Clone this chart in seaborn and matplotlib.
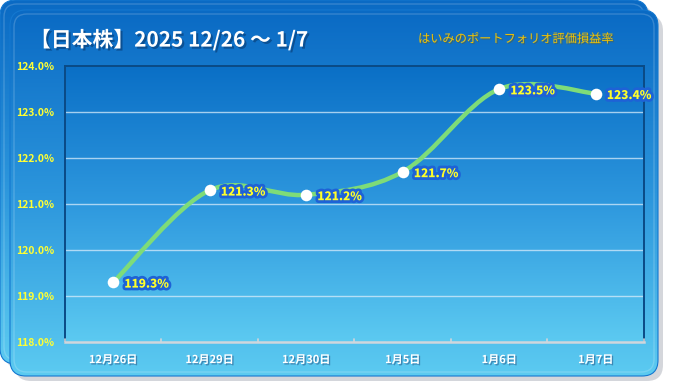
import matplotlib
matplotlib.use("Agg")
import matplotlib.pyplot as plt
import matplotlib.patheffects as pe
from matplotlib.patches import FancyBboxPatch, PathPatch
from matplotlib.path import Path
from matplotlib.colors import LinearSegmentedColormap
import seaborn as sns
import numpy as np
import pandas as pd

# data
dates = ["12月26日", "12月29日", "12月30日", "1月5日", "1月6日", "1月7日"]
ratio = [119.3, 121.3, 121.2, 121.7, 123.5, 123.4]
y_ticks = [118, 119, 120, 121, 122, 123, 124]

sns.set_theme(style="white")
plt.rcParams["font.family"] = ["Noto Sans CJK JP", "DejaVu Sans"]

W, H = 674, 392
fig = plt.figure(figsize=(W / 100, H / 100), dpi=100)
fig.patch.set_facecolor("white")

# background cards drawn in pixel coordinates
bg = fig.add_axes([0, 0, 1, 1])
bg.set_xlim(0, W)
bg.set_ylim(H, 0)
bg.axis("off")

card_cmap = LinearSegmentedColormap.from_list("card", ["#0a6ac4", "#2b95dc", "#5ccbf1"])
grad = np.linspace(0, 1, 256).reshape(-1, 1)


def card(x0, y0, x1, y1, cmap, z):
    sh = FancyBboxPatch((x0 + 5, y0 + 5), x1 - x0, y1 - y0,
                        boxstyle="round,pad=0,rounding_size=16",
                        fc="#b8bcc4", ec="none", alpha=0.6, zorder=z - 0.5)
    bg.add_patch(sh)
    box = FancyBboxPatch((x0, y0), x1 - x0, y1 - y0,
                         boxstyle="round,pad=0,rounding_size=16",
                         fc="none", ec="#1478d0", lw=0.8, zorder=z + 0.1)
    bg.add_patch(box)
    im = bg.imshow(grad, extent=[x0, x1, y1, y0], cmap=cmap, aspect="auto", zorder=z)
    im.set_clip_path(box)
    # soft inner bevel
    inner = FancyBboxPatch((x0 + 4, y0 + 4), x1 - x0 - 8, y1 - y0 - 8,
                           boxstyle="round,pad=0,rounding_size=13",
                           fc="none", ec="white", lw=1.0, alpha=0.18, zorder=z + 0.2)
    bg.add_patch(inner)


card(0, 0, 648, 364, card_cmap, 1)
card(10, 10, 658, 376, card_cmap, 2)

# plot area
ax = fig.add_axes([65 / W, 1 - 342 / H, (644 - 65) / W, (342 - 66) / H])
ax.set_facecolor("none")
plot_cmap = LinearSegmentedColormap.from_list("plot", ["#0a6fc6", "#2e98de", "#5ccaf1"])
ax.imshow(grad, extent=[-0.5, 5.5, 118, 124], cmap=plot_cmap, aspect="auto", zorder=0)

df = pd.DataFrame({"date": dates, "ratio": ratio, "x": range(len(dates))})

# smoothed line through the data points (Catmull-Rom as cubic Bezier segments)
pts = np.column_stack([df["x"], df["ratio"]]).astype(float)
ext = np.vstack([pts[0], pts, pts[-1]])
verts = [tuple(pts[0])]
codes = [Path.MOVETO]
for i in range(1, len(ext) - 2):
    p0, p1, p2, p3 = ext[i - 1], ext[i], ext[i + 1], ext[i + 2]
    c1 = p1 + (p2 - p0) / 6
    c2 = p2 - (p3 - p1) / 6
    verts += [tuple(c1), tuple(c2), tuple(p2)]
    codes += [Path.CURVE4] * 3
ax.add_patch(PathPatch(Path(verts, codes), fc="none", ec="#7edc78", lw=3.2,
                       capstyle="round", zorder=3))

sns.scatterplot(data=df, x="x", y="ratio", ax=ax, s=70, color="white",
                edgecolor="white", linewidth=0, zorder=4, legend=False)

for _, r in df.iterrows():
    ax.annotate(f"{r['ratio']:.1f}%", (r["x"], r["ratio"]), xytext=(8, -1),
                textcoords="offset points", ha="left", va="center",
                fontsize=8.5, fontweight="heavy", color="#ffff2a", zorder=5,
                path_effects=[pe.withStroke(linewidth=4, foreground="#1e62d6")])

ax.set_xlim(-0.5, 5.5)
ax.set_ylim(118, 124)
ax.set_yticks(y_ticks)
ax.set_yticklabels([f"{v:.1f}%" for v in y_ticks], fontsize=7.5,
                   fontweight="bold", color="#ffff33")
ax.set_xticks(range(len(dates)))
ax.set_xticklabels(dates, fontsize=8, fontweight="bold", color="white")
for t in ax.get_xticklabels():
    t.set_path_effects([pe.SimplePatchShadow(offset=(1, -1), shadow_rgbFace="#2a6090", alpha=0.6), pe.Normal()])
ax.tick_params(axis="both", length=0, pad=8)
ax.tick_params(axis="x", pad=8)

for v in y_ticks[1:-1]:
    ax.axhline(v, color="#d8ecfb", lw=1.0, alpha=0.75, zorder=1)

# boundary ticks between categories on the bottom axis
for b in np.arange(-0.5, 6.0, 1.0):
    ax.plot([b, b], [118, 118.07], color="#d0d6dc", lw=1.2, clip_on=False, zorder=6)

for side in ["left", "right", "top"]:
    ax.spines[side].set_color("#0a4a86")
    ax.spines[side].set_linewidth(1.4)
ax.spines["bottom"].set_color("#d0d6dc")
ax.spines["bottom"].set_linewidth(1.8)
ax.set_xlabel("")
ax.set_ylabel("")

# titles
bg.text(30, 40, "【日本株】2025 12/26 ～ 1/7", fontsize=15, fontweight="bold",
        color="white", ha="left", va="center", zorder=10,
        path_effects=[pe.SimplePatchShadow(offset=(1.5, -1.5), shadow_rgbFace="#083a70", alpha=0.6), pe.Normal()])
bg.text(614, 39, "はいみのポートフォリオ評価損益率", fontsize=8.8, fontstyle="italic",
        color="#f5c400", ha="right", va="center", zorder=10,
        path_effects=[pe.SimplePatchShadow(offset=(0.8, -0.8), shadow_rgbFace="#6a5a10", alpha=0.5), pe.Normal()])

fig.savefig("out.png", dpi=100)
